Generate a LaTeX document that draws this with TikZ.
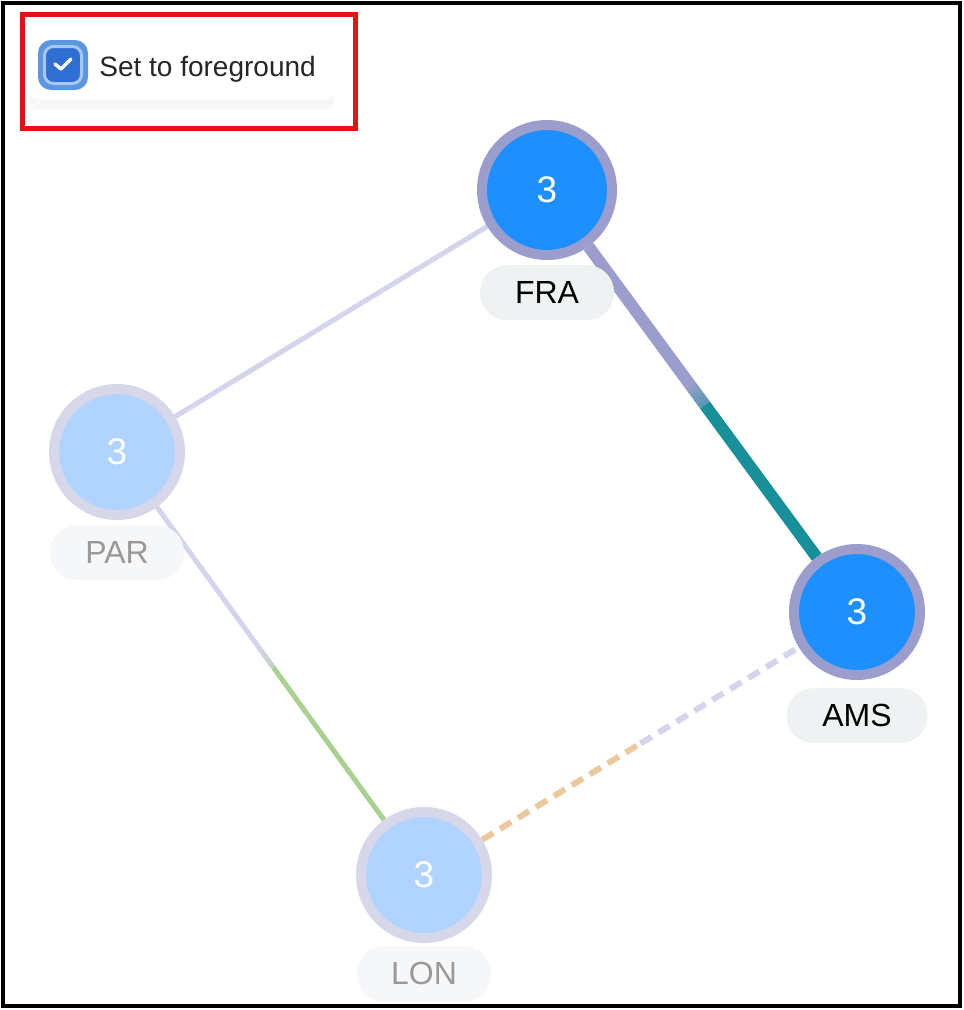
\documentclass[tikz,border=0pt]{standalone}
\usepackage{fontspec}
\setmainfont{Liberation Sans}
\usetikzlibrary{positioning,calc,backgrounds,shadows}
\definecolor{NetBlue}{HTML}{1E8FFF}
\definecolor{NetPale}{HTML}{B1D3FF}
\definecolor{NetRing}{HTML}{9B9ECD}
\definecolor{NetRingDim}{HTML}{D7D7EA}
\definecolor{NetLink}{HTML}{D4D5EC}
\definecolor{NetTeal}{HTML}{18909A}
\definecolor{NetGreen}{HTML}{A9D18F}
\definecolor{NetOrange}{HTML}{EBC99C}
\definecolor{NetTag}{HTML}{EEF2F3}
\definecolor{NetTagDim}{HTML}{F6F7F8}
\definecolor{NetMuted}{HTML}{999999}
\definecolor{NetRed}{HTML}{E11414}
\definecolor{BoxBlue}{HTML}{2F6ED3}
\definecolor{BoxEdge}{HTML}{5A97E0}
\definecolor{BoxLight}{HTML}{A8C7F0}

\begin{document}
\begin{tikzpicture}[x=1pt,y=-1pt,
  site/.style={circle,line width=10pt,minimum size=126pt,inner sep=0pt,text=white,font=\fontsize{37}{40}\selectfont},
  active/.style={draw=NetRing,fill=NetBlue},
  faded/.style={draw=NetRingDim,fill=NetPale},
  tag/.style={rounded corners=27pt,minimum width=134pt,minimum height=55pt,inner sep=0pt,font=\fontsize{32}{36}\selectfont,fill=NetTag,text=black},
  tagdim/.style={fill=NetTagDim,text=NetMuted},
  link/.style={line width=5pt,NetLink},
]
\useasboundingbox (0,0) rectangle (964,1010);
% sites
\node[site,active,minimum size=130pt] (fra) at (547,190) {3};
\node[site,faded] (par) at (117,452) {3};
\node[site,active] (ams) at (857,612) {3};
\node[site,faded] (lon) at (424,875) {3};
\node[tag,below=5pt of fra] (fratag) {FRA};
\node[tag,tagdim,below=5pt of par] (partag) {PAR};
\node[tag,minimum width=141pt,below=8pt of ams] (amstag) {AMS};
\node[tag,tagdim,below=3pt of lon] (lontag) {LON};
% links behind the sites
\begin{scope}[on background layer]
\fill[white] (0,0) rectangle (964,1010);
\draw[link] (par) -- (fra);
\draw[link] (par) -- ($(par)!0.46!(lon)$);
\foreach \k in {0,...,4}
  \draw[link,NetGreen!\k5!NetLink] ($(par)!{0.46+0.01*\k}!(lon)$) -- ($(par)!{0.472+0.01*\k}!(lon)$);
\draw[link,NetGreen] ($(par)!0.51!(lon)$) -- (lon);
\draw[link,line width=12pt,NetRing] (fra) -- ($(fra)!0.46!(ams)$);
\foreach \k in {0,...,4}
  \draw[link,line width=12pt,NetTeal!\k5!NetRing] ($(fra)!{0.46+0.01*\k}!(ams)$) -- ($(fra)!{0.472+0.01*\k}!(ams)$);
\draw[link,line width=12pt,NetTeal] ($(fra)!0.51!(ams)$) -- (ams);
\draw[link,line width=6pt,NetOrange,dash pattern=on 13pt off 8pt] (lon) -- ($(lon)!0.5!(ams)$);
\draw[link,line width=6pt,dash pattern=on 13pt off 8pt] ($(lon)!0.5!(ams)$) -- (ams);
\end{scope}
% foreground switch
\node[fill=white,rounded corners=8pt,minimum width=303pt,minimum height=67pt,
  drop shadow={opacity=0.06,shadow xshift=0pt,shadow yshift=-10pt}] (card) at (181.5,66) {};
\node[fill=BoxEdge,rounded corners=13pt,minimum size=50pt,inner sep=0pt] (boxout) at (63,65) {};
\node[fill=BoxBlue,draw=BoxLight,line width=3pt,rounded corners=9pt,minimum size=37pt,inner sep=0pt] (box) at (boxout) {};
\draw[white,line width=3.5pt,line cap=round,line join=round] ($(box)+(-8,-1)$) -- ($(box)+(-2,4)$) -- ($(box)+(8,-6)$);
\node[right=11pt of boxout,yshift=-4pt,inner sep=0pt,font=\fontsize{28}{32}\selectfont,text=black!85] (caption) {Set to foreground};
\node[draw=NetRed,line width=4.5pt,minimum width=333pt,minimum height=114pt,inner sep=0pt] (highlight) at (189,71.5) {};
\draw[line width=4pt] (3,3) rectangle (960,1006);
\end{tikzpicture}
\end{document}
